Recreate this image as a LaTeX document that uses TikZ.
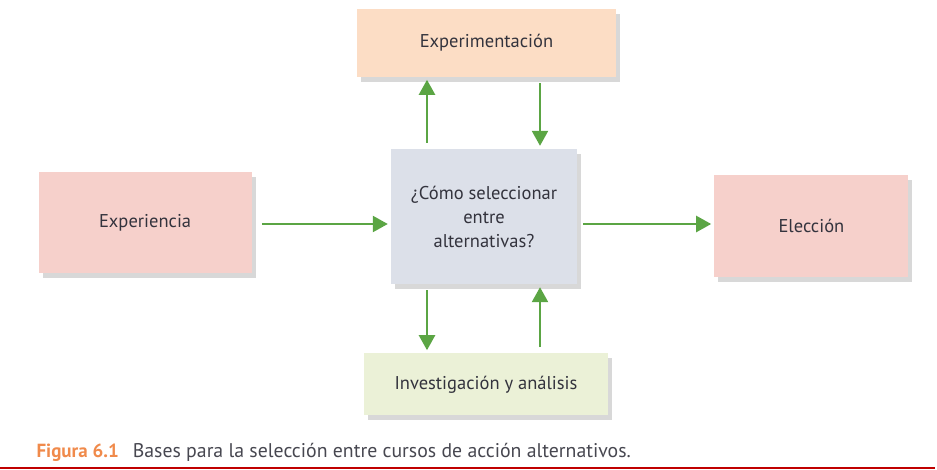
\documentclass[tikz,border=0pt]{standalone}
\usepackage{fontspec}
\setmainfont{PT Sans}
\usetikzlibrary{arrows.meta,positioning,shadows}
\definecolor{txtgrey}{HTML}{33333D}
\definecolor{arrgreen}{HTML}{5BA544}
\definecolor{peach}{HTML}{FCDDC5}
\definecolor{rose}{HTML}{F6D0CB}
\definecolor{bluegrey}{HTML}{DCE0E9}
\definecolor{palegreen}{HTML}{EBF1D7}
\definecolor{capor}{HTML}{F08A4B}
\definecolor{rule}{HTML}{C00000}

\begin{document}
\begin{tikzpicture}[x=1pt,y=-1pt]
	\tikzset{block/.style={align=center,inner sep=0pt,text=txtgrey,font=\fontsize{18.5}{24}\selectfont,
			drop shadow={shadow xshift=4pt,shadow yshift=-5pt,opacity=0.22,fill=black!70}},
		link/.style={draw=arrgreen,line width=2.4pt,-{Triangle[length=15pt,width=16pt]},shorten <=6pt,shorten >=3pt}}
	\useasboundingbox (0,0) rectangle (937,469);
	\node [block, fill=bluegrey, minimum width=186pt, minimum height=135pt] (q) at (484,216.5) {¿Cómo seleccionar\\entre\\alternativas?};
	\node [block, fill=peach, minimum width=259pt, minimum height=68pt, above=72pt of q, xshift=2.5pt] (exper) {Experimentación};
	\node [block, fill=rose, minimum width=213pt, minimum height=101pt, left=139pt of q, yshift=-6pt] (expce) {Experiencia};
	\node [block, fill=rose, minimum width=194pt, minimum height=102pt, right=137pt of q, yshift=-9.5pt] (elec) {Elección};
	\node [block, fill=palegreen, minimum width=244pt, minimum height=62pt, below=69pt of q, xshift=2pt] (inv) {Investigación y análisis};
	% arrows
	\path[link] ([xshift=-57pt]q.north) -- ([xshift=-57pt]q.north |- exper.south);
	\path[link] ([xshift=56pt]q.north |- exper.south) -- ([xshift=56pt]q.north);
	\path[link] ([xshift=-57pt]q.south) -- ([xshift=-57pt]q.south |- inv.north);
	\path[link] ([xshift=56pt]q.south |- inv.north) -- ([xshift=56pt]q.south);
	\path[link, shorten <=10pt] (expce.east |- 0,224) -- (q.west |- 0,224);
	\path[link] (q.east |- 0,224) -- (elec.west |- 0,224);
	% caption
	\node [anchor=west, font=\fontsize{19.8}{21}\selectfont, text=txtgrey!90] (cap) at (33,452) {\textcolor{capor}{\fontsize{19}{21}\selectfont\textbf{Figura 6.1}}\hspace{14pt}Bases para la selección entre cursos de acción alternativos.};
	\draw [rule, line width=2pt] (0,467.5) -- (935,467.5);
\end{tikzpicture}
\end{document}
